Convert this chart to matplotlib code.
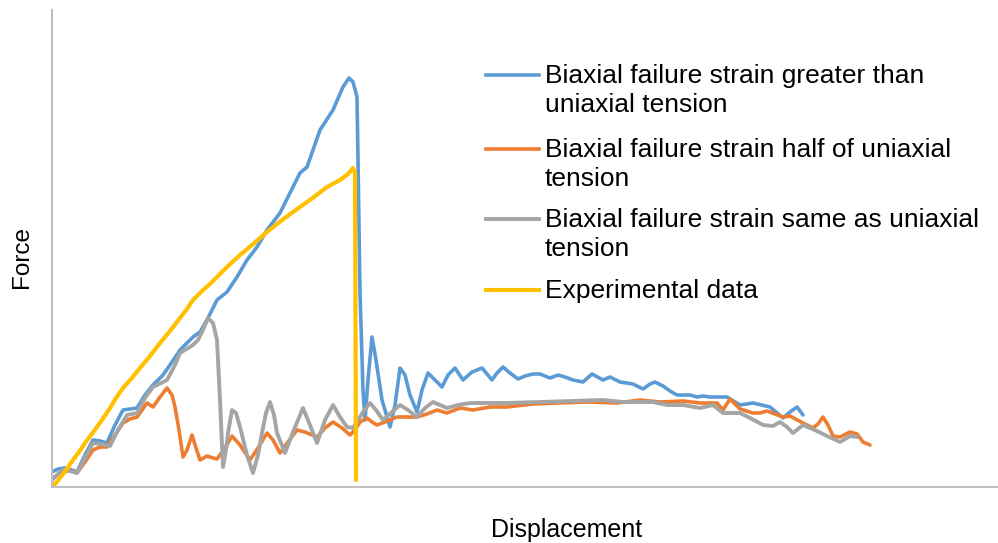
import matplotlib
matplotlib.use("Agg")
import matplotlib.pyplot as plt
from matplotlib.lines import Line2D

plt.rcParams["font.family"] = ["Liberation Sans", "DejaVu Sans"]

# Биаксиальная деформация больше одноосной
blue_x = [0, 6, 13, 20, 25, 33, 41, 48, 55, 63, 71, 78, 85, 93, 101, 111, 120, 128, 141, 148, 155, 165, 175,
          185, 195, 205, 215, 228, 238, 248, 255, 261, 268, 281, 291, 297, 301, 305, 306, 308, 311, 313, 316,
          320, 324, 330, 338, 343, 348, 353, 358, 365, 370, 376, 383, 390, 396, 403, 411, 420, 430, 440, 445,
          451, 458, 466, 473, 481, 488, 498, 506, 513, 521, 531, 540, 551, 558, 568, 581, 591, 598, 603, 611,
          618, 625, 638, 645, 651, 658, 675, 688, 701, 718, 731, 738, 745, 751]
blue_y = [15, 18, 19, 17, 15, 32, 47, 46, 44, 62, 77, 78, 79, 92, 102, 112, 125, 137, 150, 155, 167, 187, 195,
          210, 227, 240, 257, 274, 294, 314, 320, 337, 357, 377, 400, 409, 405, 390, 327, 194, 97, 67, 107,
          150, 127, 87, 60, 82, 119, 112, 92, 75, 97, 114, 107, 100, 112, 119, 107, 115, 119, 107, 114,
          120, 114, 108, 111, 113, 113, 109, 112, 110, 107, 105, 113, 107, 110, 105, 103, 98, 103, 105, 101,
          96, 92, 92, 90, 91, 90, 90, 82, 84, 80, 69, 75, 80, 72]

# Биаксиальная деформация вдвое меньше
orange_x = [0, 8, 18, 25, 33, 41, 48, 55, 63, 71, 78, 85, 95, 101, 108, 115, 120, 123, 127, 131, 135, 140,
            144, 148, 155, 161, 165, 173, 180, 188, 198, 206, 215, 221, 228, 236, 245, 253, 265, 273, 281,
            290, 298, 303, 308, 315, 320, 325, 333, 345, 365, 375, 385, 395, 408, 421, 438, 455, 481, 505,
            535, 565, 588, 608, 631, 648, 665, 671, 678, 688, 701, 708, 715, 731, 738, 751, 761, 766, 771,
            776, 781, 788, 798, 805, 811, 818]
orange_y = [9, 13, 17, 14, 25, 37, 40, 40, 52, 64, 68, 70, 84, 80, 90, 99, 92, 80, 57, 30, 37, 52,
            39, 27, 31, 29, 28, 39, 51, 42, 27, 39, 54, 47, 34, 45, 57, 55, 50, 59, 65,
            59, 52, 57, 65, 69, 65, 62, 65, 70, 70, 73, 77, 74, 79, 77, 80, 80, 83, 84,
            85, 84, 87, 85, 86, 84, 84, 77, 88, 78, 74, 74, 76, 70, 71, 64, 59, 63, 70,
            62, 51, 50, 55, 53, 45, 42]

# Биаксиальная деформация равна одноосной
gray_x = [0, 6, 11, 18, 25, 33, 41, 48, 58, 66, 75, 85, 93, 101, 115, 123, 128, 141, 146, 151, 156, 161,
          165, 168, 171, 174, 176, 180, 184, 188, 195, 201, 206, 210, 214, 218, 222, 225, 233, 241, 251,
          258, 265, 273, 281, 288, 295, 301, 306, 311, 318, 324, 331, 340, 348, 356, 365, 373, 381, 388,
          395, 406, 418, 455, 488, 521, 551, 571, 601, 615, 631, 648, 661, 671, 688, 698, 711, 721, 728,
          735, 741, 751, 765, 775, 788, 798, 805]
gray_y = [7, 13, 17, 16, 14, 29, 44, 43, 41, 57, 72, 74, 89, 100, 107, 122, 134, 142, 147, 157, 169, 164,
          147, 87, 20, 37, 54, 77, 74, 60, 32, 14, 32, 54, 74, 85, 72, 54, 34, 55, 79,
          62, 44, 67, 82, 70, 60, 59, 67, 75, 84, 77, 67, 75, 82, 77, 70, 79, 85, 82,
          79, 82, 84, 84, 85, 86, 87, 85, 85, 82, 82, 79, 82, 74, 74, 69, 62, 61, 65,
          60, 54, 62, 56, 51, 45, 51, 50]

# Эксперимент
exp_x = [0, 4, 8, 14, 21, 27, 33, 39, 45, 52, 58, 64, 71, 79, 88, 98, 108, 118, 128, 135, 141, 150, 158,
         165, 175, 188, 200, 215, 230, 248, 262, 275, 288, 296, 301, 303, 304]
exp_y = [0, 4, 9, 17, 27, 35, 44, 52, 60, 70, 79, 89, 99, 108, 119, 131, 144, 156, 169, 178, 187, 196, 203,
         210, 220, 232, 242, 255, 267, 280, 290, 300, 307, 313, 319, 314, 7]

labels = ["Biaxial failure strain greater than",
          "Biaxial failure strain half of uniaxial",
          "Biaxial failure strain same as uniaxial",
          "Experimental data"]
labels2 = ["uniaxial tension", "tension", "tension", ""]
colors = ["#5B9BD5", "#ED7D31", "#A5A5A5", "#FFC000"]
widths = [2.6, 2.6, 2.8, 3.0]

fig = plt.figure(figsize=(9.98, 5.43), dpi=100)
ax = fig.add_axes([52 / 998, 56 / 543, 946 / 998, 477 / 543])

series = [(blue_x, blue_y), (orange_x, orange_y), (gray_x, gray_y), (exp_x, exp_y)]
for (xs, ys), c, w in zip(series, colors, widths):
    ax.plot(xs, ys, color=c, linewidth=w, solid_joinstyle="round", solid_capstyle="round")

ax.set_xlim(0, 946)
ax.set_ylim(0, 477)
ax.set_xticks([])
ax.set_yticks([])
for s in ["top", "right"]:
    ax.spines[s].set_visible(False)
for s in ["left", "bottom"]:
    ax.spines[s].set_color("#BFBFBF")
    ax.spines[s].set_linewidth(1.5)

# легенда вручную (маркер на уровне первой строки, как в Excel)
baselines = [83, 157, 227, 298]
for lab, lab2, c, w, b in zip(labels, labels2, colors, widths, baselines):
    yh = 1 - (b - 8) / 543
    fig.add_artist(Line2D([486 / 998, 539 / 998], [yh, yh], color=c, linewidth=w,
                          transform=fig.transFigure))
    fig.text(545 / 998, 1 - b / 543, lab, fontsize=19, va="baseline", ha="left")
    if lab2:
        fig.text(545 / 998, 1 - (b + 29) / 543, lab2, fontsize=19, va="baseline", ha="left")

fig.text(567 / 998, 1 - 537 / 543, "Displacement", fontsize=18, ha="center", va="baseline")
fig.text(22 / 998, 1 - 257 / 543, "Force", fontsize=17.5, ha="center", va="center", rotation=90)

fig.savefig("out.png", dpi=100)
